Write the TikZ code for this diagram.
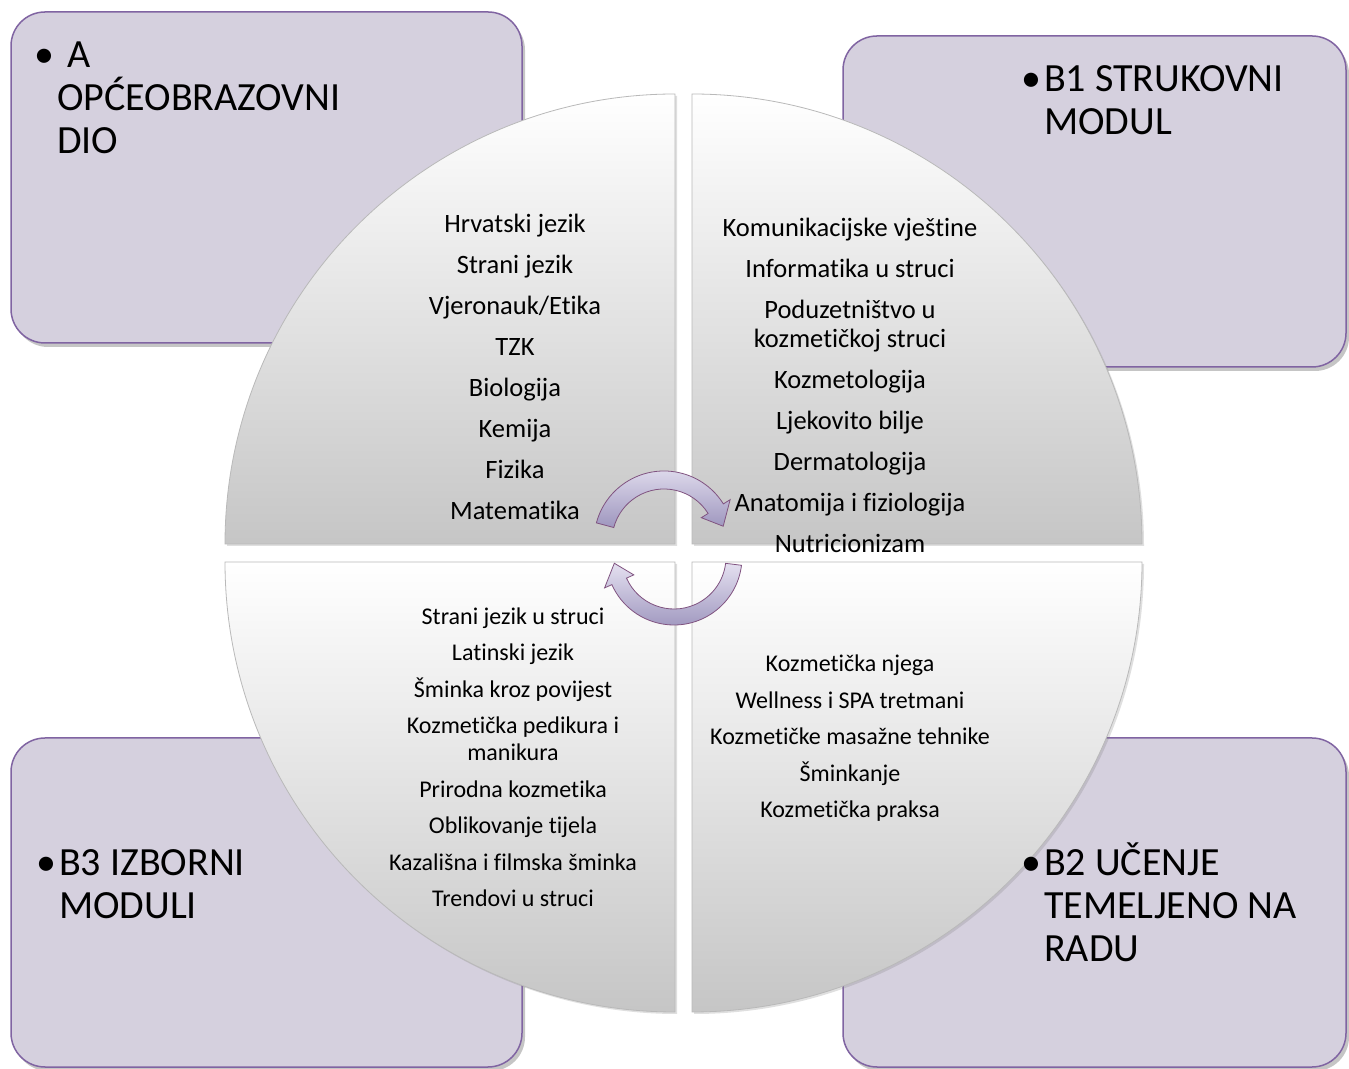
\documentclass[tikz,border=0pt]{standalone}
\usepackage{fontspec}
\setmainfont{Carlito}[Ligatures=CommonOff]
\usetikzlibrary{shadows}
\definecolor{modulefill}{RGB}{213,208,222}
\definecolor{moduleline}{RGB}{128,100,162}
\definecolor{cyclelight}{RGB}{228,224,240}
\definecolor{cycledark}{RGB}{158,150,190}

\begin{document}
\begin{tikzpicture}[x=1pt, y=1pt,
	modulebox/.style={fill=modulefill, draw=moduleline, line width=1.5pt, rounded corners=34pt, drop shadow={shadow xshift=3pt, shadow yshift=-4pt, opacity=.45}},
	quarter/.style={draw=gray!55, line width=.8pt, top color=white, bottom color=gray!45, drop shadow={shadow xshift=2pt, shadow yshift=-2pt, opacity=.25}},
	cyclearrow/.style={draw=gray!65!violet, line width=.8pt, top color=cyclelight, bottom color=cycledark},
	moduletitle/.style={anchor=base west, align=left, inner sep=0pt, font=\fontsize{40}{43}\selectfont},
	subjects/.style={anchor=base, align=center, inner sep=0pt, font=\fontsize{26.5}{29}\selectfont},
	electives/.style={anchor=base, align=center, inner sep=0pt, font=\fontsize{24}{27}\selectfont}]
	\useasboundingbox (0,0) rectangle (1349,1068);
	\fill[white] (0,0) rectangle (1349,1068);

	\draw[modulebox] (11,725) rectangle (522,1056);
	\draw[modulebox] (843,701) rectangle (1346,1032);
	\draw[modulebox] (11,1) rectangle (522,330);
	\draw[modulebox] (843,1) rectangle (1346,330);

	\draw[quarter] (675,524) -- ++(-450,0) arc[start angle=180, end angle=90, radius=450] -- cycle;
	\draw[quarter] (692,524) -- ++(0,450) arc[start angle=90, end angle=0, radius=450] -- cycle;
	\draw[quarter] (692,506) -- ++(450,0) arc[start angle=0, end angle=-90, radius=450] -- cycle;
	\draw[quarter] (675,506) -- ++(0,-450) arc[start angle=270, end angle=180, radius=450] -- cycle;

	\begin{scope}[shift={(664,527)}]
		\draw[cyclearrow] (165:70) arc[start angle=165, end angle=32, radius=70] -- (32:78) -- (14:61) -- (32:44) -- (32:52) arc[start angle=32, end angle=165, radius=52] -- cycle;
	\end{scope}
	\begin{scope}[shift={(674,511)}]
		\draw[cyclearrow] (-7:68) arc[start angle=-7, end angle=-156, radius=68] -- (-156:76) -- (-174:60) -- (-156:44) -- (-156:52) arc[start angle=-156, end angle=-7, radius=52] -- cycle;
	\end{scope}

	\node[subjects] (opcelist) at (515,548) {Hrvatski jezik\\[12pt]Strani jezik\\[12pt]Vjeronauk/Etika\\[12pt]TZK\\[12pt]Biologija\\[12pt]Kemija\\[12pt]Fizika\\[12pt]Matematika};
	\node[subjects] (strukovnilist) at (850,515) {Komunikacijske vještine\\[12pt]Informatika u struci\\[12pt]Poduzetništvo u\\kozmetičkoj struci\\[12pt]Kozmetologija\\[12pt]Ljekovito bilje\\[12pt]Dermatologija\\[12pt]Anatomija i fiziologija\\[12pt]Nutricionizam};
	\node[electives] (izbornilist) at (513,161) {Strani jezik u struci\\[9.5pt]Latinski jezik\\[9.5pt]Šminka kroz povijest\\[9.5pt]Kozmetička pedikura i\\manikura\\[9.5pt]Prirodna kozmetika\\[9.5pt]Oblikovanje tijela\\[9.5pt]Kazališna i filmska šminka\\[9.5pt]Trendovi u struci};
	\node[electives] (ucenjelist) at (850,250) {Kozmetička njega\\[9.5pt]Wellness i SPA tretmani\\[9.5pt]Kozmetičke masažne tehnike\\[9.5pt]Šminkanje\\[9.5pt]Kozmetička praksa};

	\node[moduletitle] (opce) at (57,914) {\llap{\textbullet\hspace{3pt}}\hspace*{10pt}A\\OPĆEOBRAZOVNI\\DIO};
	\node[moduletitle] (strukovni) at (1044,933) {\llap{\textbullet\hspace{3pt}}B1 STRUKOVNI\\MODUL};
	\node[moduletitle] (izborni) at (59,149) {\llap{\textbullet\hspace{3pt}}B3 IZBORNI\\MODULI};
	\node[moduletitle] (ucenje) at (1044,106) {\llap{\textbullet\hspace{3pt}}B2 UČENJE\\TEMELJENO NA\\RADU};
\end{tikzpicture}
\end{document}
